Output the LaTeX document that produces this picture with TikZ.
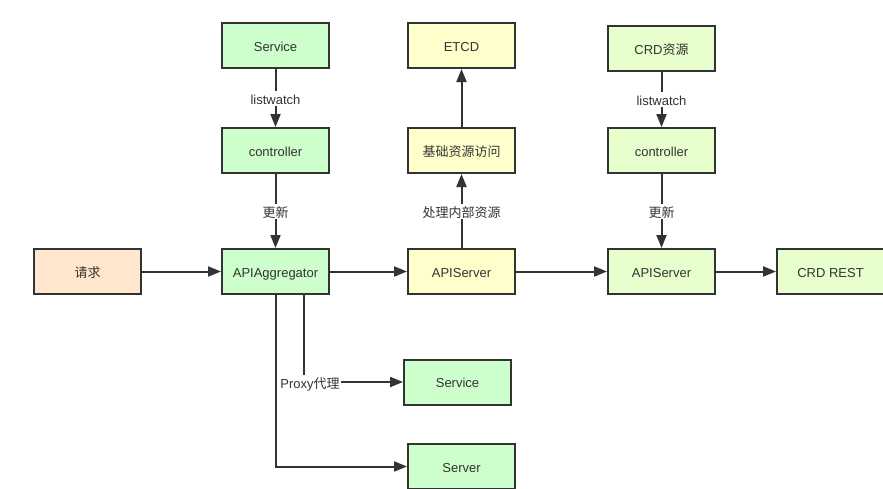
\documentclass[tikz,border=0pt]{standalone}
\usepackage{fontspec}
\setmainfont{Liberation Sans}
\newfontfamily\cjk{Noto Sans CJK SC}
\usetikzlibrary{arrows.meta,calc}
\definecolor{gfill}{HTML}{CCFFCC}
\definecolor{yfill}{HTML}{FFFFCC}
\definecolor{ofill}{HTML}{FFE6CC}
\definecolor{lgfill}{HTML}{E6FFCC}
\definecolor{edge}{HTML}{333333}
\definecolor{txt}{HTML}{333333}
\begin{document}
\begin{tikzpicture}[x=1pt,y=-1pt,
  box/.style={draw=edge,line width=2pt,minimum width=107pt,minimum height=45pt,inner sep=0pt,
    font=\fontsize{13}{15}\selectfont,text=txt,text height=12pt,text depth=0.7pt},
  gbox/.style={box,fill=gfill},
  ybox/.style={box,fill=yfill},
  obox/.style={box,fill=ofill},
  lgbox/.style={box,fill=lgfill},
  arr/.style={draw=edge,line width=2pt,-{Triangle[length=13pt,width=10pt]}},
  lbl/.style={fill=white,inner sep=1.5pt,font=\fontsize{13}{15}\selectfont,text=txt,
    text height=12pt,text depth=0pt}]
\useasboundingbox[fill=white] (0,0) rectangle (883,488);
\node[obox] (req) at (87.5,271.5) {\cjk 请求};
\node[gbox] (agg) at (275.5,271.5) {APIAggregator};
\node[ybox] (apis1) at (461.5,271.5) {APIServer};
\node[gbox] (svc) at (275.5,45.5) {Service};
\node[gbox] (ctl1) at (275.5,150.5) {controller};
\node[ybox] (etcd) at (461.5,45.5) {ETCD};
\node[ybox] (base) at (461.5,150.5) {\cjk 基础资源访问};
\node[lgbox] (crd) at (661.5,48.5) {CRD{\cjk 资源}};
\node[lgbox] (ctl2) at (661.5,150.5) {controller};
\node[lgbox] (apis2) at (661.5,271.5) {APIServer};
\node[lgbox] (rest) at (830.5,271.5) {CRD REST};
\node[gbox] (svc2) at (457.5,382) {Service};
\node[gbox] (server) at (461.5,466.5) {Server};
\coordinate (aggp) at ($(agg.south)+(28.5,0)$);
\draw[arr] (svc) -- node[lbl] {listwatch} (ctl1);
\draw[arr] (ctl1) -- node[lbl] {\cjk 更新} (agg);
\draw[arr] (base) -- (etcd);
\draw[arr] (apis1) -- node[lbl] {\cjk 处理内部资源} (base);
\draw[arr] (crd) -- node[lbl] {listwatch} (ctl2);
\draw[arr] (ctl2) -- node[lbl] {\cjk 更新} (apis2);
\draw[arr] (req) -- (agg);
\draw[arr] (agg) -- (apis1);
\draw[arr] (apis1) -- (apis2);
\draw[arr] (apis2) -- (rest);
\draw[arr] (aggp) |- node[lbl,pos=0.5,xshift=6pt] {Proxy{\cjk 代理}} (svc2.west);
\draw[arr] (agg.south) |- (server.west);
\end{tikzpicture}
\end{document}
